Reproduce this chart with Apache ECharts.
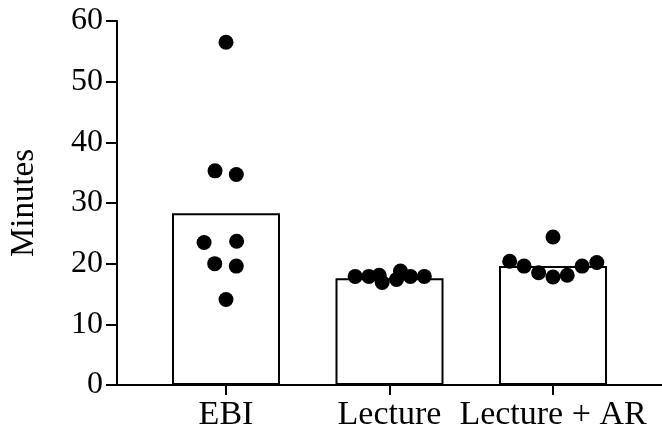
<!DOCTYPE html>
<html>
<head>
<meta charset="utf-8">
<script src="https://cdn.jsdelivr.net/npm/echarts@6/dist/echarts.min.js"></script>
<style>
html,body{margin:0;padding:0;background:#fff;}
#c{width:662px;height:445px;}
</style>
</head>
<body>
<div id="c"></div>
<script>
var categories = ['EBI', 'Lecture', 'Lecture + AR'];
var barMeans = [28.3, 17.6, 19.6];
var yTicks = [0, 10, 20, 30, 40, 50, 60];

var ebiValues = [56.5, 35.3, 34.7, 23.5, 23.7, 20.0, 19.6, 14.1];
var ebiJitter = [0, -0.067, 0.063, -0.134, 0.065, -0.069, 0.063, 0];
var lectureValues = [17.9, 17.9, 18.1, 16.9, 17.4, 18.8, 17.9, 17.9];
var lectureJitter = [-0.21, -0.126, -0.063, -0.045, 0.043, 0.067, 0.128, 0.213];
var lectureArValues = [20.4, 19.6, 18.5, 17.8, 18.1, 19.6, 20.2, 24.4];
var lectureArJitter = [-0.265, -0.177, -0.088, 0, 0.087, 0.178, 0.268, 0];

var groups = [[ebiValues, ebiJitter], [lectureValues, lectureJitter], [lectureArValues, lectureArJitter]];
var dots = [];
groups.forEach(function (g, i) {
  g[0].forEach(function (v, k) { dots.push([i + g[1][k], v]); });
});
var bars = barMeans.map(function (v, i) { return [i, v]; });

var font = 'Liberation Serif';
var chart = echarts.init(document.getElementById('c'));
chart.setOption({
  animation: false,
  backgroundColor: '#fff',
  grid: { left: 116, right: 0, top: 21, bottom: 60, containLabel: false },
  xAxis: {
    type: 'value',
    min: -2 / 3,
    max: 8 / 3,
    splitLine: { show: false },
    axisLine: { show: true, onZero: false, lineStyle: { color: '#000', width: 2 } },
    axisTick: { show: true, length: 10, lineStyle: { color: '#000', width: 2 }, customValues: [0, 1, 2] },
    axisLabel: {
      customValues: [0, 1, 2],
      formatter: function (v) { return categories[Math.round(v)]; },
      color: '#000', fontFamily: font, fontSize: 34, margin: 13
    }
  },
  yAxis: {
    type: 'value',
    min: 0, max: 60, interval: 10,
    name: 'Minutes',
    nameLocation: 'middle',
    nameGap: 76,
    nameRotate: 90,
    nameTextStyle: { color: '#000', fontFamily: font, fontSize: 33 },
    splitLine: { show: false },
    axisLine: { show: true, onZero: false, lineStyle: { color: '#000', width: 2 } },
    axisTick: { show: true, length: 11, lineStyle: { color: '#000', width: 2 } },
    axisLabel: {
      color: '#000', fontFamily: font, fontSize: 32, margin: 14,
      formatter: function (v) { return yTicks.indexOf(v) >= 0 ? String(v) : ''; }
    }
  },
  series: [
    {
      type: 'bar',
      data: bars,
      barWidth: 108,
      itemStyle: { color: '#fff', borderColor: '#000', borderWidth: 2 },
      z: 2
    },
    {
      type: 'scatter',
      data: dots,
      symbol: 'circle',
      symbolSize: 15,
      itemStyle: { color: '#000', opacity: 1 },
      z: 3
    }
  ]
});
</script>
</body>
</html>
